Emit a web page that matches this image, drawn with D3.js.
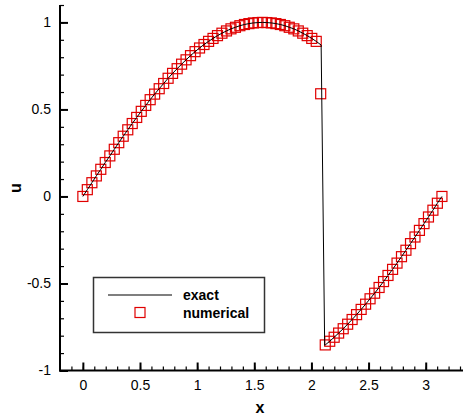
<!DOCTYPE html>
<html>
<head>
<meta charset="utf-8">
<script src="https://cdn.jsdelivr.net/npm/d3@7"></script>
<style>
  html, body { margin: 0; padding: 0; background: #fff; }
  svg { display: block; font-family: "Liberation Sans", Arial, sans-serif; }
</style>
</head>
<body>
<svg id="chart" width="463" height="416"></svg>
<script>
// Grid points of the numerical solution
const gridX = [
  0, 0.039, 0.079, 0.118, 0.157, 0.196, 0.236, 0.275, 0.314, 0.353,
  0.393, 0.432, 0.471, 0.511, 0.550, 0.589, 0.628, 0.668, 0.707, 0.746,
  0.785, 0.825, 0.864, 0.903, 0.942, 0.982, 1.021, 1.060, 1.100, 1.139,
  1.178, 1.217, 1.257, 1.296, 1.335, 1.374, 1.414, 1.453, 1.492, 1.532,
  1.571, 1.610, 1.649, 1.689, 1.728, 1.767, 1.806, 1.846, 1.885, 1.924,
  1.963, 2.003, 2.042, 2.081, 2.121, 2.160, 2.199, 2.238, 2.278, 2.317,
  2.356, 2.395, 2.435, 2.474, 2.513, 2.553, 2.592, 2.631, 2.670, 2.710,
  2.749, 2.788, 2.827, 2.867, 2.906, 2.945, 2.985, 3.024, 3.063, 3.102,
  3.142
];

// Numerical u at each grid point
const numericalU = [
  0, 0.039, 0.079, 0.118, 0.156, 0.195, 0.233, 0.271, 0.309, 0.346,
  0.383, 0.419, 0.454, 0.489, 0.523, 0.556, 0.588, 0.619, 0.649, 0.679,
  0.707, 0.734, 0.760, 0.785, 0.809, 0.832, 0.853, 0.873, 0.891, 0.908,
  0.924, 0.938, 0.951, 0.963, 0.972, 0.981, 0.988, 0.993, 0.997, 0.999,
  1.000, 0.999, 0.997, 0.993, 0.988, 0.981, 0.972, 0.963, 0.951, 0.938,
  0.924, 0.908, 0.891, 0.590, -0.853, -0.832, -0.809, -0.785, -0.760, -0.734,
  -0.707, -0.679, -0.649, -0.619, -0.588, -0.556, -0.523, -0.489, -0.454, -0.419,
  -0.383, -0.346, -0.309, -0.271, -0.233, -0.195, -0.156, -0.118, -0.079, -0.039,
  0
];

// Exact solution, with the shock between x = 2.085 and x = 2.116
const exactX = [
  0, 0.039, 0.079, 0.118, 0.157, 0.196, 0.236, 0.275, 0.314, 0.353,
  0.393, 0.432, 0.471, 0.511, 0.550, 0.589, 0.628, 0.668, 0.707, 0.746,
  0.785, 0.825, 0.864, 0.903, 0.942, 0.982, 1.021, 1.060, 1.100, 1.139,
  1.178, 1.217, 1.257, 1.296, 1.335, 1.374, 1.414, 1.453, 1.492, 1.532,
  1.571, 1.610, 1.649, 1.689, 1.728, 1.767, 1.806, 1.846, 1.885, 1.924,
  1.963, 2.003, 2.042, 2.085, 2.116, 2.121, 2.160, 2.199, 2.238, 2.278, 2.317,
  2.356, 2.395, 2.435, 2.474, 2.513, 2.553, 2.592, 2.631, 2.670, 2.710,
  2.749, 2.788, 2.827, 2.867, 2.906, 2.945, 2.985, 3.024, 3.063, 3.102,
  3.142
];
const exactU = [
  0, 0.039, 0.079, 0.118, 0.156, 0.195, 0.233, 0.271, 0.309, 0.346,
  0.383, 0.419, 0.454, 0.489, 0.523, 0.556, 0.588, 0.619, 0.649, 0.679,
  0.707, 0.734, 0.760, 0.785, 0.809, 0.832, 0.853, 0.873, 0.891, 0.908,
  0.924, 0.938, 0.951, 0.963, 0.972, 0.981, 0.988, 0.993, 0.997, 0.999,
  1.000, 0.999, 0.997, 0.993, 0.988, 0.981, 0.972, 0.963, 0.951, 0.938,
  0.924, 0.908, 0.891, 0.870, -0.855, -0.853, -0.832, -0.809, -0.785, -0.760, -0.734,
  -0.707, -0.679, -0.649, -0.619, -0.588, -0.556, -0.523, -0.489, -0.454, -0.419,
  -0.383, -0.346, -0.309, -0.271, -0.233, -0.195, -0.156, -0.118, -0.079, -0.039,
  0
];

const xTickValues = [0, 0.5, 1, 1.5, 2, 2.5, 3];
const yTickValues = [-1, -0.5, 0, 0.5, 1];
const legendLabels = ["exact", "numerical"];

const svg = d3.select("#chart");
const W = 463;
const FONT = "'Liberation Sans', Arial, sans-serif";

const x = d3.scaleLinear().domain([-0.2, 3.3]).range([60, 460]);
const y = d3.scaleLinear().domain([-1, 1.1]).range([370.5, 5]);

const fmt = d => String(d);

// Minor ticks every 0.1
const xMinor = d3.range(-1, 34).map(i => +(i / 10).toFixed(1)).filter(v => v >= -0.2 && v <= 3.3);
const yMinor = d3.range(-10, 12).map(i => +(i / 10).toFixed(1));

// x axis
const gx = svg.append("g").attr("transform", "translate(0,370.5)");
gx.append("g")
  .call(d3.axisBottom(x).tickValues(xMinor).tickSizeInner(-4).tickSizeOuter(0).tickFormat(""))
  .call(g => g.select(".domain").remove())
  .call(g => g.selectAll("line").attr("stroke", "#000").attr("stroke-width", 1.2));
gx.append("g")
  .call(d3.axisBottom(x).tickValues(xTickValues).tickSizeInner(-8).tickSizeOuter(0).tickPadding(9.5).tickFormat(fmt))
  .call(g => g.select(".domain").remove())
  .call(g => g.selectAll("line").attr("stroke", "#000").attr("stroke-width", 2))
  .call(g => g.selectAll("text").attr("font-size", 14).attr("fill", "#000").attr("font-family", FONT));
gx.append("line").attr("x1", 59).attr("x2", W).attr("y1", 0).attr("y2", 0)
  .attr("stroke", "#000").attr("stroke-width", 2);

// y axis
const gy = svg.append("g").attr("transform", "translate(60,0)");
gy.append("g")
  .call(d3.axisLeft(y).tickValues(yMinor).tickSizeInner(-4).tickSizeOuter(0).tickFormat(""))
  .call(g => g.select(".domain").remove())
  .call(g => g.selectAll("line").attr("stroke", "#000").attr("stroke-width", 1.2));
gy.append("g")
  .call(d3.axisLeft(y).tickValues(yTickValues).tickSizeInner(-8).tickSizeOuter(0).tickPadding(9).tickFormat(fmt))
  .call(g => g.select(".domain").remove())
  .call(g => g.selectAll("line").attr("stroke", "#000").attr("stroke-width", 2))
  .call(g => g.selectAll("text").attr("font-size", 14).attr("fill", "#000").attr("font-family", FONT));
gy.append("line").attr("x1", 0).attr("x2", 0).attr("y1", 5).attr("y2", 371.5)
  .attr("stroke", "#000").attr("stroke-width", 2);

// Axis titles
svg.append("text").attr("x", 260).attr("y", 413).attr("text-anchor", "middle")
  .attr("font-size", 16).attr("font-weight", "bold").text("x");
svg.append("text").attr("transform", "translate(20.5,188) rotate(-90)")
  .attr("text-anchor", "middle").attr("font-size", 16).attr("font-weight", "bold").text("u");

// Numerical solution: open squares
const S = 10;
const numerical = gridX.map((d, i) => ({ x: d, u: numericalU[i] }));
svg.append("g").selectAll("rect").data(numerical).join("rect")
  .attr("x", d => x(d.x) - S / 2).attr("y", d => y(d.u) - S / 2)
  .attr("width", S).attr("height", S)
  .attr("fill", "none").attr("stroke", "#e00000").attr("stroke-width", 1.2);

// Exact solution: solid line
const exact = exactX.map((d, i) => ({ x: d, u: exactU[i] }));
svg.append("path").datum(exact)
  .attr("d", d3.line().x(d => x(d.x)).y(d => y(d.u)))
  .attr("fill", "none").attr("stroke", "#000").attr("stroke-width", 1);

// Legend
const lg = svg.append("g");
lg.append("rect").attr("x", 93.5).attr("y", 277.5).attr("width", 171).attr("height", 55)
  .attr("fill", "#fff").attr("stroke", "#333").attr("stroke-width", 1.5);
lg.append("line").attr("x1", 108).attr("x2", 172).attr("y1", 295).attr("y2", 295)
  .attr("stroke", "#000").attr("stroke-width", 1.2);
lg.append("rect").attr("x", 135).attr("y", 307.5).attr("width", S).attr("height", S)
  .attr("fill", "none").attr("stroke", "#e00000").attr("stroke-width", 1.2);
lg.selectAll("text.lab").data(legendLabels).join("text").attr("class", "lab")
  .attr("x", 183).attr("y", (d, i) => 300 + i * 17.5)
  .attr("font-size", 14).attr("font-weight", "bold").text(d => d);
</script>
</body>
</html>
